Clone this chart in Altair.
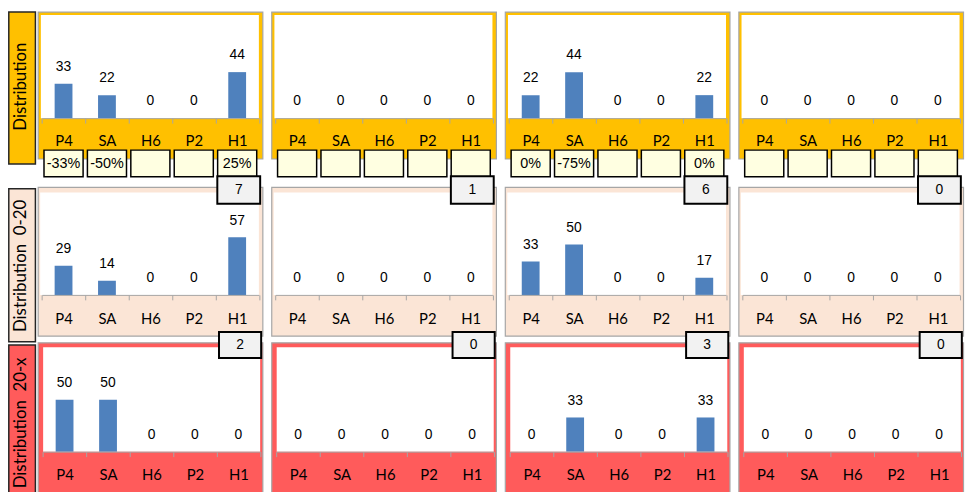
import altair as alt
import pandas as pd

# ---------------- data ----------------
categories = ["P4", "SA", "H6", "P2", "H1"]
row_names = ["Distribution", "Distribution\u00a0\u00a00-20", "Distribution\u00a0\u00a020-x"]

values_all = [[33, 22, 0, 0, 44], [0, 0, 0, 0, 0], [22, 44, 0, 0, 22], [0, 0, 0, 0, 0]]
values_0_20 = [[29, 14, 0, 0, 57], [0, 0, 0, 0, 0], [33, 50, 0, 0, 17], [0, 0, 0, 0, 0]]
values_20_x = [[50, 50, 0, 0, 0], [0, 0, 0, 0, 0], [0, 33, 0, 0, 33], [0, 0, 0, 0, 0]]

change_labels = [["-33%", "-50%", "", "", "25%"],
                 ["", "", "", "", ""],
                 ["0%", "-75%", "", "", "0%"],
                 ["", "", "", "", ""]]

counts_0_20 = [7, 1, 6, 0]
counts_20_x = [2, 0, 3, 0]

VALUES = [values_all, values_0_20, values_20_x]
COUNTS = [None, counts_0_20, counts_20_x]

# ---------------- styling / geometry ----------------
ROWS = [
    dict(h=172, fill="#FFC000", outer=(0.5, 149), white=(3.2, 223.5, 3.5, 107.7),
         xr=[4.2, 223.5], axis=107.7, top=2.0, lab_pad=17.6,
         lbox=(0.8, 27.7, 0.5, 154), ltext=75.8),
    dict(h=160, fill="#FBE5D6", outer=(5.7, 156), white=(2.5, 223.5, 10.7, 114.3),
         xr=[4.2, 223.5], axis=114.3, top=12.3, lab_pad=19.0,
         lbox=(0.8, 27.7, 7, 161.7), ltext=85,
         badge=(181.5, 224.8, -5.7, 22.3)),
    dict(h=152, fill="#FF5B5B", outer=(2.7, 165), white=(5.5, 224.8, 7.3, 112.7),
         xr=[5.2, 224.8], axis=112.7, top=8.0, lab_pad=18.0,
         lbox=(0.8, 27.7, 5, 165), ltext=83.7,
         badge=(183.2, 225.8, -8.3, 18)),
]
PANEL_W = 227.5
COL_W = [235.5, 235.5, 235.5, 228]
LABEL_W = 29.5

one = pd.DataFrame({"k": [0]})


def panel(r, c):
    g = ROWS[r]
    df = pd.DataFrame({"cat": categories, "value": VALUES[r][c]})
    xenc = alt.X(
        "cat:N",
        scale=alt.Scale(domain=categories, range=g["xr"], paddingInner=0, paddingOuter=0),
        axis=alt.Axis(title=None, orient="bottom", offset=g["axis"] - g["h"],
                      domainColor="#A6A6A6", domainWidth=1, tickColor="#A6A6A6",
                      tickWidth=1, tickSize=5, tickBand="extent", labelAngle=0,
                      labelFont="Lato", labelFontSize=15, labelColor="black",
                      labelPadding=g["lab_pad"], labelBaseline="middle", grid=False,
                      zindex=1),
    )
    yenc = alt.Y("value:Q", scale=alt.Scale(domain=[0, 100], range=[g["axis"], g["top"]]),
                 axis=None)

    bg = alt.Chart(one).mark_rect(fill=g["fill"], stroke="#A6A6A6", strokeWidth=1.2).encode(
        x=alt.value(0.5), x2=alt.value(PANEL_W), y=alt.value(g["outer"][0]),
        y2=alt.value(g["outer"][1]))
    wx0, wx1, wy0, wy1 = g["white"]
    white = alt.Chart(one).mark_rect(fill="white").encode(
        x=alt.value(wx0), x2=alt.value(wx1), y=alt.value(wy0), y2=alt.value(wy1))
    bars = alt.Chart(df).mark_bar(size=18, color="#4F81BD").encode(x=xenc, y=yenc)
    nums = alt.Chart(df).mark_text(font="Liberation Sans", fontSize=14, dy=-10,
                                   baseline="bottom", color="black").encode(
        x=xenc, y=yenc, text="value:Q")
    layers = [bg, white, bars, nums]

    if r == 0:
        dp = pd.DataFrame({"cat": categories, "label": change_labels[c]})
        boxes = alt.Chart(dp).mark_bar(size=39.5, fill="#FFFFE1", stroke="black",
                                       strokeWidth=1.5).encode(
            x=xenc, y=alt.value(140), y2=alt.value(167))
        ptxt = alt.Chart(dp).mark_text(font="Liberation Sans", fontSize=14.5,
                                       color="black").encode(
            x=xenc, y=alt.value(154), text="label:N")
        layers += [boxes, ptxt]
    else:
        bx0, bx1, by0, by1 = g["badge"]
        db = pd.DataFrame({"n": [COUNTS[r][c]]})
        brect = alt.Chart(db).mark_rect(fill="#F2F2F2", stroke="black", strokeWidth=2).encode(
            x=alt.value(bx0), x2=alt.value(bx1), y=alt.value(by0), y2=alt.value(by1))
        btxt = alt.Chart(db).mark_text(font="Liberation Sans", fontSize=14,
                                       color="black").encode(
            x=alt.value((bx0 + bx1) / 2), y=alt.value((by0 + by1) / 2), text="n:Q")
        layers += [brect, btxt]

    return alt.layer(*layers).properties(width=COL_W[c], height=g["h"])


def label_chart(r):
    g = ROWS[r]
    x0, x1, y0, y1 = g["lbox"]
    dl = pd.DataFrame({"name": [row_names[r]]})
    box = alt.Chart(dl).mark_rect(fill=g["fill"], stroke="#262626", strokeWidth=1.5).encode(
        x=alt.value(x0), x2=alt.value(x1), y=alt.value(y0), y2=alt.value(y1))
    txt = alt.Chart(dl).mark_text(font="Lato", fontSize=17, angle=270, align="center",
                                  baseline="middle", color="black").encode(
        x=alt.value(13), y=alt.value(g["ltext"]), text="name:N")
    return alt.layer(box, txt).properties(width=LABEL_W, height=g["h"])


cells = []
for r in range(3):
    cells.append(label_chart(r))
    cells += [panel(r, c) for c in range(4)]

chart = alt.concat(*cells, columns=5, spacing=0, bounds="flush").properties(
    padding=0).configure_view(stroke=None)

chart.save("out.html", embed_options={"renderer": "svg", "actions": False})
